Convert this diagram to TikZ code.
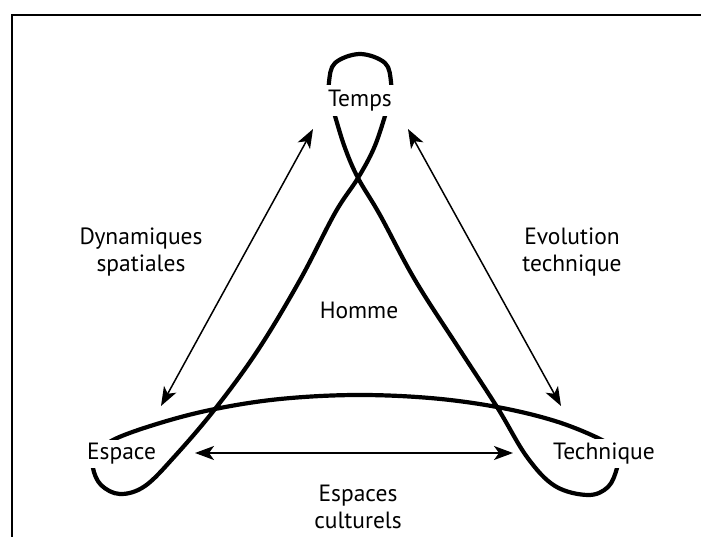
\documentclass[tikz,border=0pt]{standalone}
\usepackage{fontspec}
\setmainfont{PT Sans}
\usetikzlibrary{arrows.meta}

\begin{document}
\begin{tikzpicture}[
  x=1pt, y=-1pt,
  word/.style={font=\fontsize{23.5}{27}\selectfont, align=center, inner sep=0pt},
  pole/.style={word, fill=white},
  arr/.style={{Stealth[length=19pt,width=14pt,inset=5pt]}-{Stealth[length=19pt,width=14pt,inset=5pt]}, line width=1.5pt},
  ribbon/.style={line width=4.2pt, line join=round}
]
\useasboundingbox (0,0) rectangle (701,537);
% frame
\draw[line width=1.2pt] (12,537) -- (12,15) -- (701,15);
% the closed curve through the three poles
\draw[ribbon] plot[smooth cycle, tension=0.6] coordinates {
  (96,456) (93,468) (101,485) (120,494) (145,486) (175,456)
  (215,409) (258,350) (300,280) (335,213) (358,178) (374,148)
  (385,116) (390,98) (391,82) (385,63) (360,54)
  (335,63) (329,82) (330,98) (335,116) (345,148)
  (358,178) (380,215) (415,280) (458,347) (497,407) (527,457)
  (555,486) (588,495) (608,487) (617,468) (618,452) (600,439)
  (555,421) (497,407) (430,398) (355,395) (280,399) (215,409)
  (160,423) (113,440)};
% poles
\node[pole, minimum width=76pt, minimum height=31pt] (temps) at (360,100.5) {Temps};
\node[pole, minimum width=73pt, minimum height=28pt] (espace) at (121.5,454) {Espace};
\node[pole, minimum width=112pt, minimum height=29pt] (technique) at (604,453.5) {Technique};
\node[word] (homme) at (359,310) {Homme};
% relations
\node[word] (dyn) at (141,252) {Dynamiques\\spatiales};
\node[word] (evo) at (572,252) {Evolution\\technique};
\node[word] (cult) at (358,507) {Espaces\\culturels};
% arrow ends
\coordinate (temps-l) at (313,129);
\coordinate (temps-r) at (408,129);
\coordinate (espace-t) at (161,406);
\coordinate (espace-r) at (195,453);
\coordinate (technique-t) at (561,406);
\coordinate (technique-l) at (513,453);
\draw[arr] (temps-l) -- (espace-t);
\draw[arr] (temps-r) -- (technique-t);
\draw[arr] (espace-r) -- (technique-l);
\end{tikzpicture}
\end{document}
